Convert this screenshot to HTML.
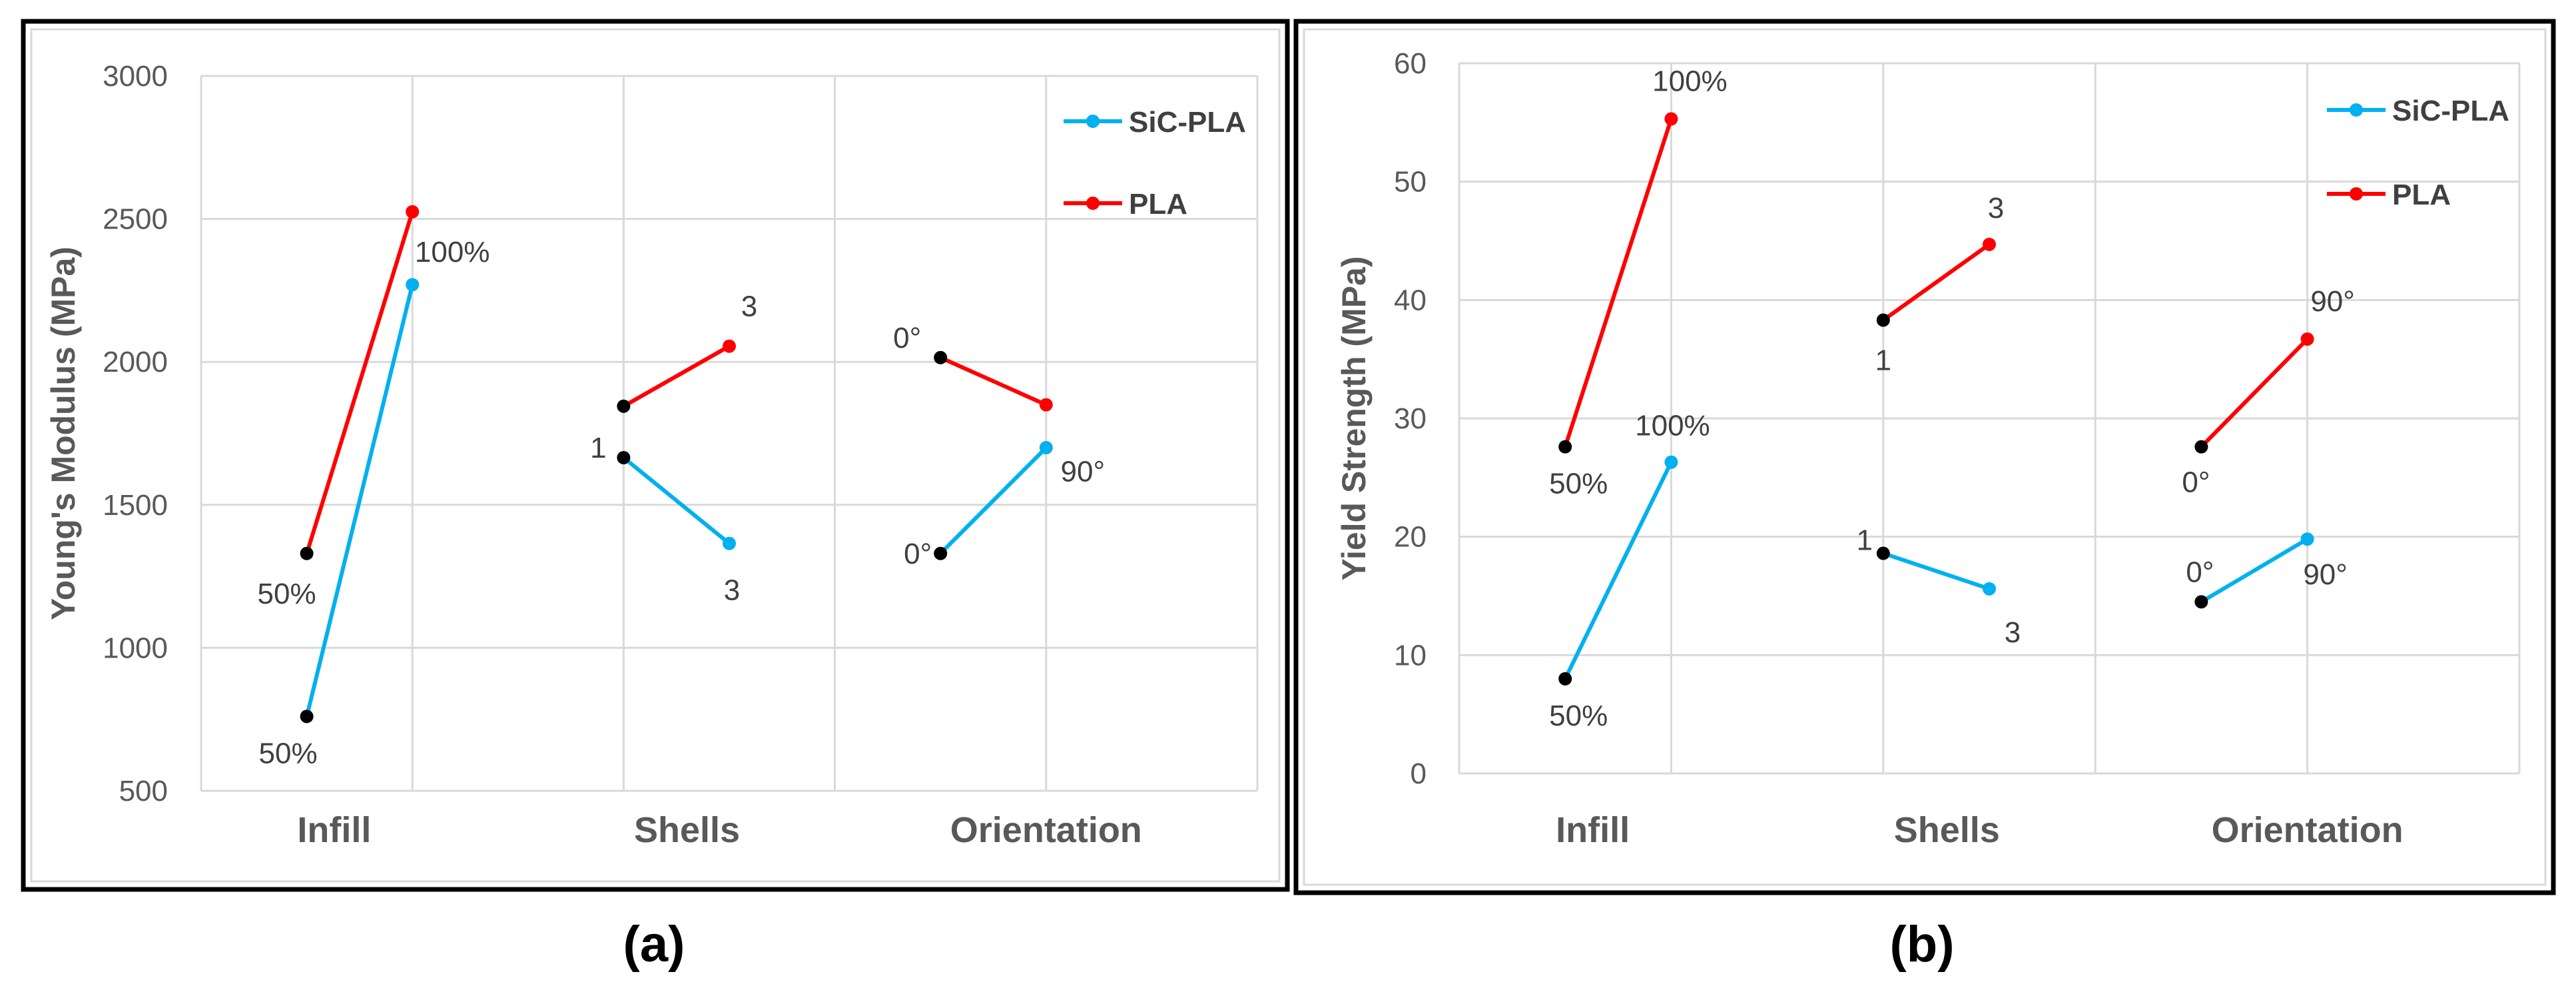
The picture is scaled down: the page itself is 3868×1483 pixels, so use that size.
<!DOCTYPE html>
<html><head><meta charset="utf-8"><style>
html,body{margin:0;padding:0;background:#fff;}
svg{display:block;}
text{font-family:"Liberation Sans",sans-serif;}
</style></head>
<body>
<svg id="fig" width="3868" height="1483" viewBox="0 0 3868 1483" xmlns="http://www.w3.org/2000/svg">
  <rect x="35" y="32" width="1898" height="1303" fill="none" stroke="#000" stroke-width="7"/>
  <rect x="47" y="44" width="1874" height="1279" fill="none" stroke="#d9d9d9" stroke-width="3"/>
  <rect x="1946" y="32" width="1888" height="1308" fill="none" stroke="#000" stroke-width="7"/>
  <rect x="1958" y="44" width="1864" height="1284" fill="none" stroke="#d9d9d9" stroke-width="3"/>
  <text x="982" y="1443" font-size="76" font-weight="bold" text-anchor="middle" fill="#000">(a)</text>
  <text x="2886" y="1443" font-size="76" font-weight="bold" text-anchor="middle" fill="#000">(b)</text>
  <g id="chartA"></g>
  <g id="chartB"></g>
</svg>
<script>
// Chart A data
const categories = ["Infill", "Shells", "Orientation"];
const aTicks = [500, 1000, 1500, 2000, 2500, 3000];
const aSic = [760, 2270, 1665, 1365, 1330, 1700];
const aPla = [1330, 2525, 1845, 2055, 2015, 1850];
const aSicLabels = ["50%", "", "1", "3", "0°", ""];
const aPlaLabels = ["50%", "100%", "", "3", "0°", "90°"];
// Chart B data
const bTicks = [0, 10, 20, 30, 40, 50, 60];
const bSic = [8.0, 26.3, 18.6, 15.6, 14.5, 19.8];
const bPla = [27.6, 55.3, 38.3, 44.7, 27.6, 36.7];
const bSicLabels = ["50%", "100%", "1", "3", "0°", "90°"];
const bPlaLabels = ["50%", "100%", "1", "3", "0°", "90°"];
// point x positions in grid units (pairs per category)
const xUnits = [0.5, 1, 2, 2.5, 3.5, 4];
const catUnits = [0.63, 2.3, 4.0];

const NS = "http://www.w3.org/2000/svg";
function mk(tag, attrs, parent) {
  const e = document.createElementNS(NS, tag);
  for (const k in attrs) e.setAttribute(k, attrs[k]);
  parent.appendChild(e);
  return e;
}

function drawChart(g, cfg) {
  const {left, right, top, bottom, ymin, ymax, ticks, sic, pla, sicLab, plaLab, sicOff, plaOff, title, titleX, legX, legY, tickRight} = cfg;
  const xs = u => left + (right - left) * u / 5;
  const ys = v => bottom - (bottom - top) * (v - ymin) / (ymax - ymin);
  ticks.forEach(t => {
    const l = mk("line", {x1: left, x2: right, y1: ys(t), y2: ys(t), stroke: "#d9d9d9", "stroke-width": 3}, g);
    
    
    const tx = mk("text", {x: tickRight, y: ys(t) + 15, "font-size": 44, "text-anchor": "end", fill: "#595959"}, g);
    tx.textContent = t;
    
    
  });
  for (let i = 0; i <= 5; i++) {
    const l = mk("line", {x1: xs(i), x2: xs(i), y1: top, y2: bottom, stroke: "#d9d9d9", "stroke-width": 3}, g);
    
    
  }
  categories.forEach((c, i) => {
    const tx = mk("text", {x: xs(catUnits[i]), y: 1264, "font-size": 54, "font-weight": "bold", "text-anchor": "middle", fill: "#595959"}, g);
    tx.textContent = c;
    
    
  });
  const cy = (top + bottom) / 2;
  const yt = mk("text", {x: titleX, y: cy, "font-size": 50, "font-weight": "bold", "text-anchor": "middle", fill: "#595959", transform: "rotate(-90 " + titleX + " " + cy + ")"}, g);
  yt.textContent = title;
  
  
  [[sic, "#00b0f0", "sic-pla", sicLab, sicOff], [pla, "#ff0000", "pla", plaLab, plaOff]].forEach(([vals, col, nm, labs, offs]) => {
    for (let p = 0; p < 3; p++) {
      const i0 = 2 * p, i1 = 2 * p + 1;
      const ln = mk("line", {x1: xs(xUnits[i0]), y1: ys(vals[i0]), x2: xs(xUnits[i1]), y2: ys(vals[i1]), stroke: col, "stroke-width": 6}, g);
      
      
    }
    vals.forEach((v, i) => {
      const c = mk("circle", {cx: xs(xUnits[i]), cy: ys(v), r: 10, fill: i % 2 === 0 ? "#000" : col}, g);
      
      
      if (labs[i]) {
        const t = mk("text", {x: xs(xUnits[i]) + offs[i][0], y: ys(v) + offs[i][1], "font-size": 44, "text-anchor": "middle", fill: "#404040"}, g);
        t.textContent = labs[i];
        
        
      }
    });
  });
  [["SiC-PLA", "#00b0f0", 0], ["PLA", "#ff0000", 1]].forEach(([n, col, k]) => {
    const y = legY[k];
    const l = mk("line", {x1: legX, x2: legX + 88, y1: y, y2: y, stroke: col, "stroke-width": 6}, g);
    
    
    const c = mk("circle", {cx: legX + 44, cy: y, r: 10, fill: col}, g);
    
    
    const t = mk("text", {x: legX + 98, y: y + 16, "font-size": 44, "font-weight": "bold", fill: "#404040"}, g);
    t.textContent = n;
    
    
  });
}

drawChart(document.getElementById("chartA"), {
  left: 302, right: 1888, top: 114, bottom: 1187, ymin: 500, ymax: 3000,
  ticks: aTicks, sic: aSic, pla: aPla, sicLab: aSicLabels, plaLab: aPlaLabels,
  sicOff: [[-28, 70], [0, 0], [-38, 0], [4, 85], [-34, 15], [0, 0]],
  plaOff: [[-30, 75], [60, 75], [0, 0], [30, -45], [-50, -15], [55, 115]],
  title: "Young's Modulus (MPa)", titleX: 112, legX: 1597, legY: [182, 305], tickRight: 252
});
drawChart(document.getElementById("chartB"), {
  left: 2191, right: 3783, top: 95, bottom: 1161, ymin: 0, ymax: 60,
  ticks: bTicks, sic: bSic, pla: bPla, sicLab: bSicLabels, plaLab: bPlaLabels,
  sicOff: [[20, 70], [2, -40], [-28, -5], [35, 80], [-2, -30], [27, 68]],
  plaOff: [[20, 70], [28, -42], [0, 75], [10, -40], [-8, 68], [38, -42]],
  title: "Yield Strength (MPa)", titleX: 2050, legX: 3494, legY: [165, 291], tickRight: 2142
});
</script>
</body></html>
